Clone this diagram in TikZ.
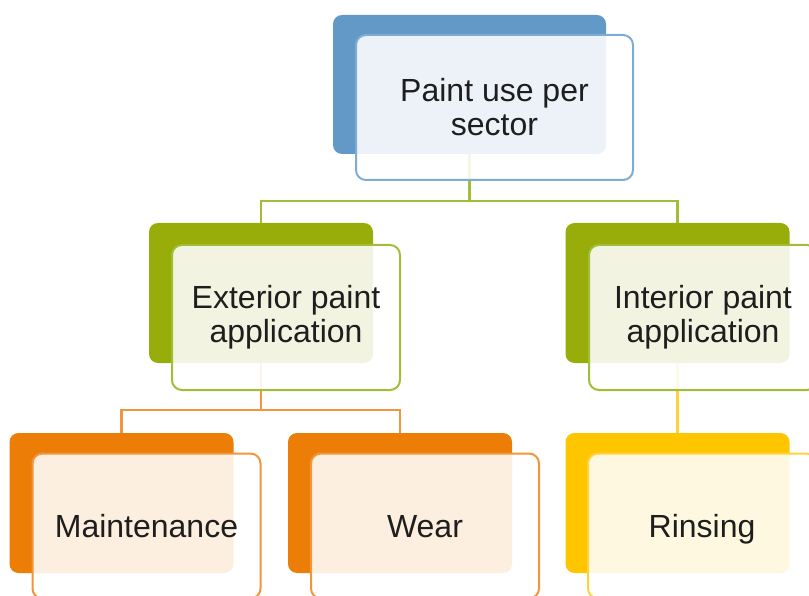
\documentclass[tikz,border=0pt]{standalone}
\usepackage{fontspec}
\setmainfont{Liberation Sans}
\usepackage{tikz}

\begin{document}
\begin{tikzpicture}[x=1pt,y=-1pt,
  back/.style={rounded corners=9pt,minimum width=224pt,minimum height=140pt,inner sep=0pt},
  front/.style={draw,rounded corners=10pt,line width=2pt,fill=white,fill opacity=0.88,text opacity=1,
    minimum width=228pt,minimum height=145pt,inner sep=0pt,align=center,text=txt,
    font=\fontsize{32}{34}\selectfont},
  single/.style={text depth=0pt},
  link/.style={line width=2.3pt}]
% Define chart colours
\definecolor{blueback}{RGB}{99,153,199}
\definecolor{blueline}{RGB}{125,172,214}
\definecolor{greenback}{RGB}{152,172,10}
\definecolor{greenline}{RGB}{160,190,55}
\definecolor{orangeback}{RGB}{236,126,8}
\definecolor{orangeline}{RGB}{241,150,60}
\definecolor{yellowback}{RGB}{255,198,0}
\definecolor{yellowline}{RGB}{255,210,60}
\definecolor{txt}{RGB}{30,30,30}

\useasboundingbox (0,0) rectangle (809,596);

% Draw back panels
\node[back,fill=blueback,minimum width=273pt,minimum height=139pt] (sectorback) at (469.5,84.5) {};
\node[back,fill=greenback] (extback) at (261,293) {};
\node[back,fill=greenback] (intback) at (677.5,293) {};
\node[back,fill=orangeback] (maintback) at (121.5,503) {};
\node[back,fill=orangeback] (wearback) at (400,503) {};
\node[back,fill=yellowback] (rinseback) at (677.5,503) {};

% Draw connectors
\draw[link,greenline] (sectorback.south) -- ++(0,47) -| (extback.north);
\draw[link,greenline] (sectorback.south) -- ++(0,47) -| (intback.north);
\draw[link,orangeline] (extback.south) -- ++(0,47) -| (maintback.north);
\draw[link,orangeline] (extback.south) -- ++(0,47) -| (wearback.north);
\draw[link,yellowline] (intback.south) -- (rinseback.north);

% Draw front panels
\node[front,draw=blueline,minimum width=277pt] (sector) at (494.5,107.5) {Paint use per\\sector};
\node[front,draw=greenline] (ext) at (286,317.5) {Exterior paint\\application};
\node[front,draw=greenline] (int) at (703,317.5) {Interior paint\\application};
\node[front,single,draw=orangeline] (maint) at (146.5,526) {Maintenance};
\node[front,single,draw=orangeline] (wear) at (425,526) {Wear};
\node[front,single,draw=yellowline] (rinse) at (702,526) {Rinsing};
\end{tikzpicture}
\end{document}
